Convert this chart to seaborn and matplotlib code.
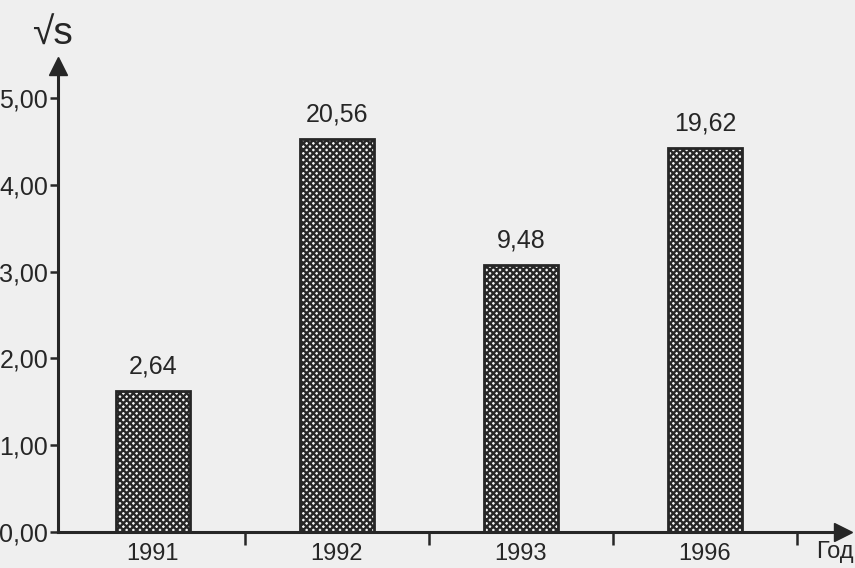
import numpy as np
import pandas as pd
import seaborn as sns
import matplotlib.pyplot as plt
from matplotlib.ticker import FixedLocator

years = ['1991', '1992', '1993', '1996']
s_values = [2.64, 20.56, 9.48, 19.62]          # подписи над столбцами
sqrt_s = [1.62, 4.53, 3.08, 4.43]              # высота столбцов (√S)
y_ticks = [0, 1, 2, 3, 4, 5]

sns.set_style('white')
plt.rcParams['font.family'] = ['Liberation Sans', 'DejaVu Sans']
plt.rcParams['hatch.linewidth'] = 1.7
plt.rcParams['hatch.color'] = '#2a2a2a'

ink = '#262626'
paper = '#efefef'

df = pd.DataFrame({'year': years, 'val': sqrt_s, 's': s_values})

fig = plt.figure(figsize=(8.55, 5.68), dpi=100, facecolor=paper)
ax = fig.add_axes([0.0678, 0.0634, 0.918, 0.8204])
ax.set_facecolor(paper)

sns.barplot(data=df, x='year', y='val', color='white', width=0.4,
            edgecolor=ink, linewidth=2, ax=ax)
for p in ax.patches:
    p.set_hatch('xxxxx')
    p.set_facecolor('#f4f4f4')

ax.bar_label(ax.containers[0], labels=[f'{v:.2f}'.replace('.', ',') for v in s_values],
             padding=9, fontsize=18, color=ink)

ax.set_xlim(-0.516, 3.75)
ax.set_ylim(0, 5.37)

ax.set_yticks(y_ticks)
ax.set_yticklabels([f'{t:.2f}'.replace('.', ',') for t in y_ticks], fontsize=18, color=ink)
ax.tick_params(axis='y', direction='out', length=6, width=1.8, color=ink, pad=1, left=True)
ax.tick_params(axis='x', which='major', length=0, pad=8, labelsize=17, labelcolor=ink)
ax.xaxis.set_minor_locator(FixedLocator([0.5, 1.5, 2.5, 3.5]))
ax.tick_params(axis='x', which='minor', direction='out', length=9, width=1.8,
               color=ink, bottom=True)

ax.set_xlabel('')
ax.set_ylabel('')
sns.despine(ax=ax)
for sp in ['left', 'bottom']:
    ax.spines[sp].set_linewidth(2.2)
    ax.spines[sp].set_color(ink)

# стрелки на осях
ax.plot(0, 1, marker='^', markersize=13, color=ink, transform=ax.transAxes, clip_on=False)
ax.plot(1, 0, marker='>', markersize=13, color=ink, transform=ax.transAxes, clip_on=False)

# подпись оси Y
fig.text(0.037, 0.922, '√s', fontsize=28, color=ink, ha='left', va='baseline')
fig.text(0.998, 0.028, 'Год', fontsize=17, color=ink, ha='right', va='center')

plt.savefig('out.png', dpi=100, facecolor=paper)
